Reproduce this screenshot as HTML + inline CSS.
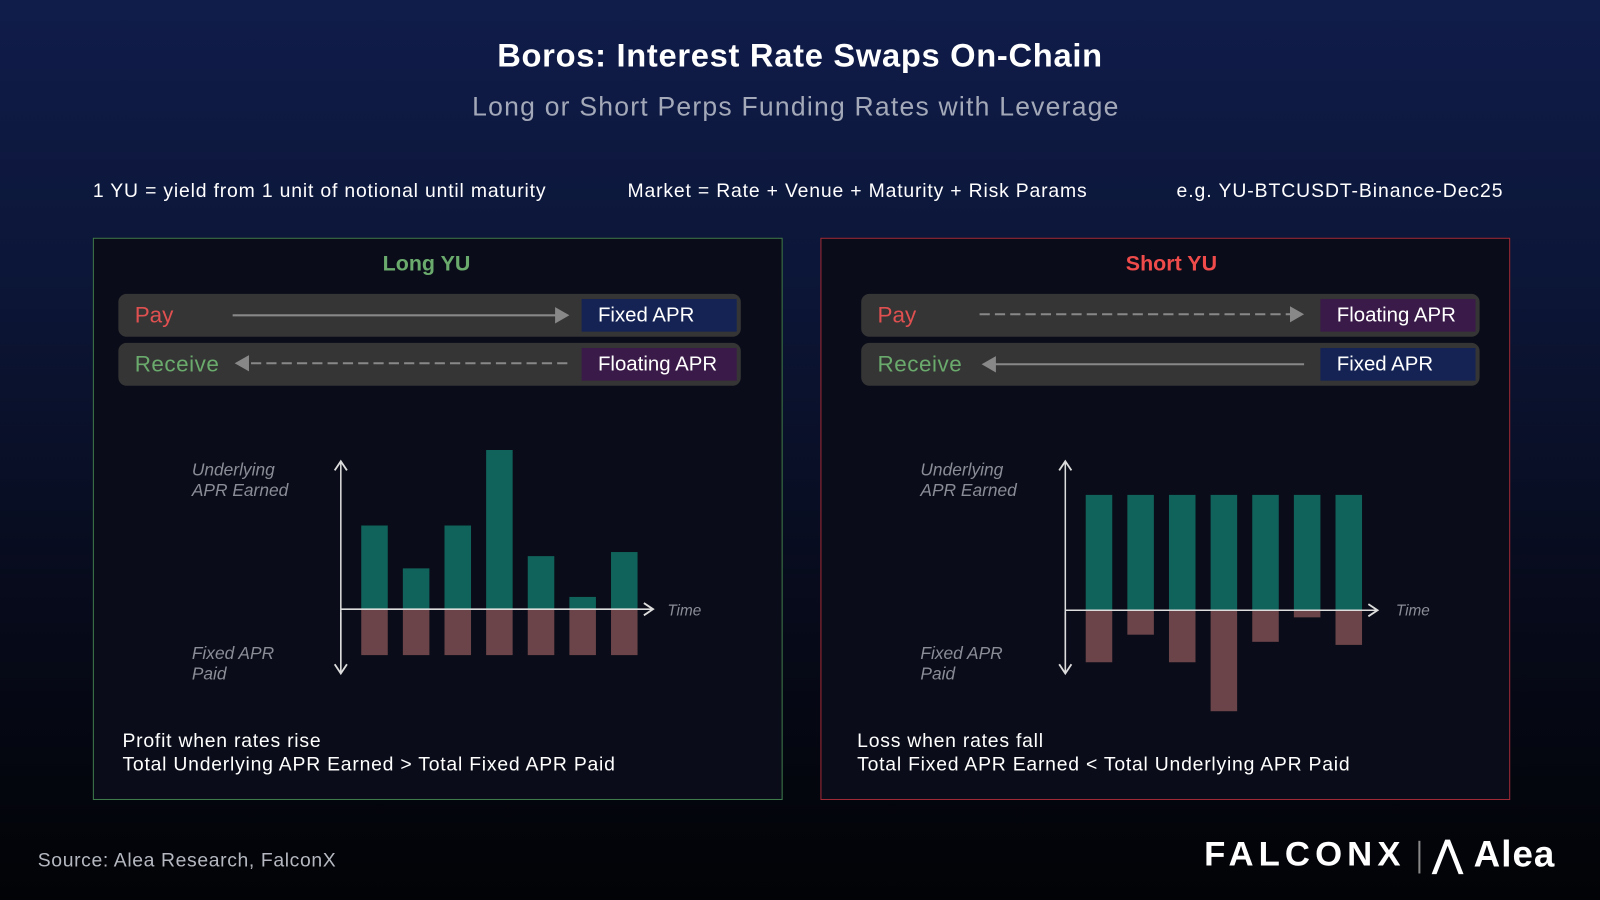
<!DOCTYPE html>
<html><head><meta charset="utf-8">
<style>
html,body{margin:0;padding:0;width:1600px;height:900px;overflow:hidden;background:#000}
#wrap{position:absolute;left:0;top:0;width:1568px;height:882px;transform:scale(1.020408);transform-origin:0 0;
background:linear-gradient(180deg,#101c4a 0%,#0c1638 30%,#070b1c 65%,#020306 100%);font-family:"Liberation Sans",sans-serif;color:#fff}
.abs{position:absolute}
.t{position:absolute;white-space:nowrap}
.box{position:absolute;background:#0a0d19;box-sizing:border-box}
.pill{position:absolute;background:#353535;border-radius:8px;height:42px}
.tag{position:absolute;height:32px;line-height:32px;font-size:20px;color:#fff;padding-left:16px;box-sizing:border-box}
.ital{font-style:italic;color:#8a8d96;font-size:17px;line-height:20px}
</style></head><body>
<div id="wrap">
<div class="t" style="left:0;width:1568px;text-align:center;top:36px;font-size:32px;font-weight:bold;letter-spacing:0.7px">Boros: Interest Rate Swaps On-Chain</div>
<div class="t" style="left:0;width:1560px;text-align:center;top:89px;font-size:26px;color:#a3a9b8;letter-spacing:1.2px">Long or Short Perps Funding Rates with Leverage</div>
<div class="t" style="left:91px;top:177px;font-size:19px;letter-spacing:0.8px">1 YU = yield from 1 unit of notional until maturity</div>
<div class="t" style="left:615px;top:177px;font-size:19px;letter-spacing:0.8px">Market = Rate + Venue + Maturity + Risk Params</div>
<div class="t" style="left:1153px;top:177px;font-size:19px;letter-spacing:0.9px">e.g. YU-BTCUSDT-Binance-Dec25</div>

<div class="box" style="left:91px;top:233px;width:676px;height:551px;border:1px solid #3f7a4a"></div>
<div class="box" style="left:804px;top:233px;width:676px;height:551px;border:1px solid #a02a36"></div>

<div class="t" style="left:91px;width:654px;text-align:center;top:247px;font-size:21px;font-weight:bold;color:#6aaa6c">Long YU</div>
<div class="t" style="left:804px;width:688px;text-align:center;top:247px;font-size:21px;font-weight:bold;color:#ef4b4b">Short YU</div>

<div class="pill" style="left:116px;top:288px;width:610px"></div>
<div class="pill" style="left:116px;top:336px;width:610px"></div>
<div class="t" style="left:132px;top:296px;font-size:22px;color:#e05050">Pay</div>
<div class="t" style="left:132px;top:344px;font-size:22px;color:#6aaa6c;letter-spacing:0.5px">Receive</div>
<div class="tag" style="left:570px;top:293px;width:152px;background:#142354">Fixed APR</div>
<div class="tag" style="left:570px;top:341px;width:152px;background:#3a1a48">Floating APR</div>
<div class="pill" style="left:844px;top:288px;width:606px"></div>
<div class="pill" style="left:844px;top:336px;width:606px"></div>
<div class="t" style="left:860px;top:296px;font-size:22px;color:#e05050">Pay</div>
<div class="t" style="left:860px;top:344px;font-size:22px;color:#6aaa6c;letter-spacing:0.5px">Receive</div>
<div class="tag" style="left:1294px;top:293px;width:152px;background:#3a1a48">Floating APR</div>
<div class="tag" style="left:1294px;top:341px;width:152px;background:#142354">Fixed APR</div>

<svg class="abs" style="left:0;top:0" width="1568" height="882">
<defs><marker id="ah" markerWidth="8" markerHeight="8" refX="6" refY="4" orient="auto"><path d="M0,0 L7,4 L0,8 z" fill="#888"/></marker>
<marker id="wh" markerWidth="10" markerHeight="10" refX="7" refY="5" orient="auto"><path d="M1,1 L7,5 L1,9" fill="none" stroke="#ddd" stroke-width="1.2"/></marker></defs>
<line x1="228" y1="309" x2="556" y2="309" stroke="#888" stroke-width="2" marker-end="url(#ah)"/>
<line x1="556" y1="356" x2="232" y2="356" stroke="#888" stroke-width="2" stroke-dasharray="10,5" marker-end="url(#ah)"/>
<line x1="960" y1="308" x2="1276" y2="308" stroke="#888" stroke-width="2" stroke-dasharray="10,5" marker-end="url(#ah)"/>
<line x1="1278" y1="357" x2="964" y2="357" stroke="#888" stroke-width="2" marker-end="url(#ah)"/>
<g id="charts"></g>
</svg>

<div class="t ital" style="left:188px;top:451px">Underlying<br>APR Earned</div>
<div class="t ital" style="left:188px;top:631px">Fixed APR<br>Paid</div>
<div class="t ital" style="left:654px;top:589px;font-size:15px">Time</div>
<div class="t ital" style="left:902px;top:451px">Underlying<br>APR Earned</div>
<div class="t ital" style="left:902px;top:631px">Fixed APR<br>Paid</div>
<div class="t ital" style="left:1368px;top:589px;font-size:15px">Time</div>

<div class="t" style="left:120px;top:715px;font-size:19px;line-height:23px;letter-spacing:0.75px">Profit when rates rise<br>Total Underlying APR Earned &gt; Total Fixed APR Paid</div>
<div class="t" style="left:840px;top:715px;font-size:19px;line-height:23px;letter-spacing:0.75px">Loss when rates fall<br>Total Fixed APR Earned &lt; Total Underlying APR Paid</div>

<div class="t" style="left:37px;top:833px;font-size:19px;color:#b5b8c0;letter-spacing:0.6px">Source: Alea Research, FalconX</div>
<div class="t" style="left:1180px;top:818px;font-size:34px;font-weight:bold;letter-spacing:5px">FALCONX</div>
<div class="abs" style="left:1390px;top:824px;width:2px;height:32px;background:#888"></div>
<div class="t" style="left:1404px;top:816px;font-size:36px;font-weight:bold;letter-spacing:1px">⋀ Alea</div>
</div>
<script>
const longEarned=[82,40,82,156,52,12,56];
const longPaid=[45,45,45,45,45,45,45];
const shortEarned=[113,113,113,113,113,113,113];
const shortPaid=[51,24,51,99,31,7,34];
const NS="http://www.w3.org/2000/svg";
const g=document.getElementById('charts');
function mk(tag,attrs){const e=document.createElementNS(NS,tag);for(const k in attrs)e.setAttribute(k,attrs[k]);g.appendChild(e);return e;}
function chart(prefix,ax,base,earned,paid){
  const step=40.8,bw=26,x0=ax+20;
  const xs=i=>x0+i*step;
  const ys=v=>base-v;
  earned.forEach((v,i)=>{
    const r=mk('rect',{x:xs(i),y:ys(v),width:bw,height:v,fill:'#10635a'});
    
    
  });
  paid.forEach((v,i)=>{
    const r=mk('rect',{x:xs(i),y:base,width:bw,height:v,fill:'#6a4448'});
    
    
  });
  const va=mk('line',{x1:ax,y1:658,x2:ax,y2:452,stroke:'#ddd','stroke-width':1.5,'marker-end':'url(#wh)'});
  
  
  const vb=mk('line',{x1:ax,y1:600,x2:ax,y2:660,stroke:'#ddd','stroke-width':1.5,'marker-end':'url(#wh)'});
  
  
  const h=mk('line',{x1:ax,y1:base,x2:ax+306,y2:base,stroke:'#ddd','stroke-width':1.5,'marker-end':'url(#wh)'});
  
  
}
chart('long',334,597,longEarned,longPaid);
chart('short',1044,598,shortEarned,shortPaid);
</script>
</body></html>
